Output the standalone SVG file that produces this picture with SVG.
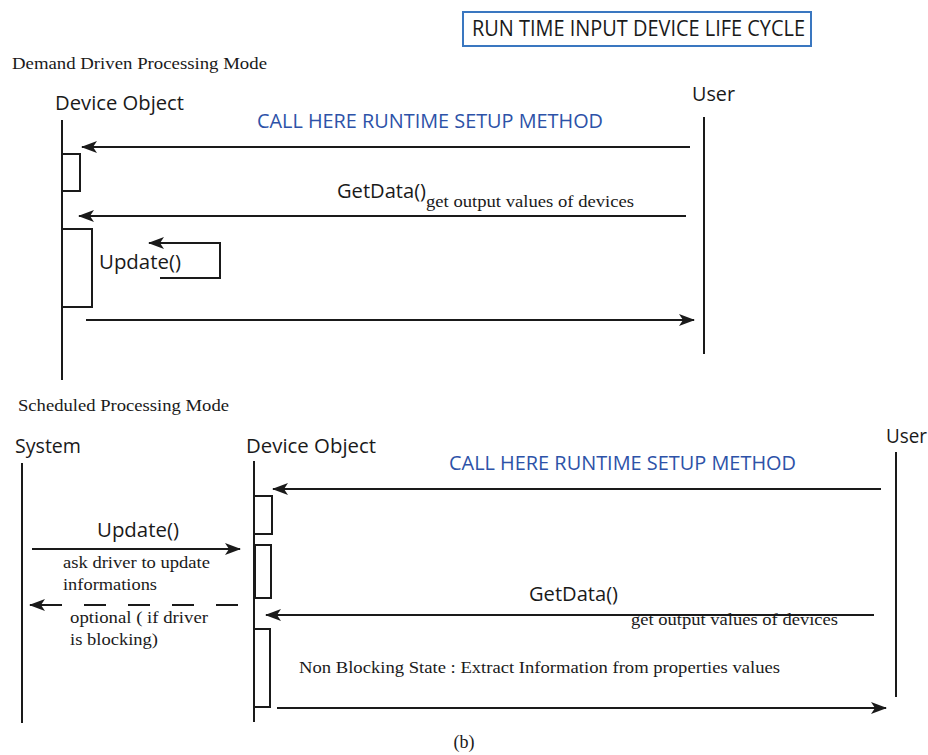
<svg xmlns="http://www.w3.org/2000/svg" width="928" height="755" viewBox="0 0 928 755">
<defs>
<marker id="ah" viewBox="0 0 16 12" refX="15" refY="6" markerWidth="16" markerHeight="12" markerUnits="userSpaceOnUse" orient="auto">
<path d="M0,0 L16,6 L0,12 L4,6 Z" fill="#1a1a1a"/>
</marker>
<style>
.sans{font-family:"Open Sans","Noto Sans","Liberation Sans",sans-serif;fill:#1a1a1a}
.serif{font-family:"Liberation Serif","Times New Roman",serif;fill:#1a1a1a}
.blue{font-family:"Open Sans","Noto Sans","Liberation Sans",sans-serif;fill:#2d52a8}
.life{stroke:#1a1a1a;stroke-width:2;fill:none}
.act{stroke:#1a1a1a;stroke-width:2;fill:#fff}
.msg{stroke:#1a1a1a;stroke-width:2;fill:none;marker-end:url(#ah)}
</style>
</defs>
<rect width="928" height="755" fill="#fff"/>

<g id="title">
<rect x="463" y="12" width="348" height="34" fill="#fff" stroke="#3a77c0" stroke-width="2"/>
<text class="sans" x="472" y="36" font-size="21" textLength="333" lengthAdjust="spacingAndGlyphs">RUN TIME INPUT DEVICE LIFE CYCLE</text>
</g>

<text class="serif" x="12" y="69" font-size="16.5" textLength="255" lengthAdjust="spacingAndGlyphs">Demand Driven Processing Mode</text>

<g id="top-device-object">
<text class="sans" x="55" y="110" font-size="20" textLength="129" lengthAdjust="spacingAndGlyphs">Device Object</text>
<line class="life" x1="62" y1="120" x2="62" y2="380"/>
<rect class="act" x="62" y="154" width="18" height="37"/>
<rect class="act" x="62" y="229" width="30" height="78"/>
</g>

<g id="top-user">
<text class="sans" x="692" y="101" font-size="20" textLength="43" lengthAdjust="spacingAndGlyphs">User</text>
<line class="life" x1="704" y1="117" x2="704" y2="354"/>
</g>

<g id="top-connectors">
<line class="msg" x1="690" y1="147" x2="82" y2="147"/>
<text class="blue" x="257" y="128" font-size="20" textLength="346" lengthAdjust="spacingAndGlyphs">CALL HERE RUNTIME SETUP METHOD</text>
<line class="msg" x1="686" y1="216" x2="79" y2="216"/>
<text class="sans" x="337" y="198" font-size="20" textLength="89" lengthAdjust="spacingAndGlyphs">GetData()</text>
<text class="serif" x="426" y="207" font-size="16.5" textLength="208" lengthAdjust="spacingAndGlyphs">get output values of devices</text>
<path class="msg" d="M160,278 H220 V243 H149"/>
<text class="sans" x="99" y="269" font-size="20" textLength="82" lengthAdjust="spacingAndGlyphs">Update()</text>
<line class="msg" x1="86" y1="320" x2="694" y2="320"/>
</g>

<text class="serif" x="18" y="411" font-size="16.5" textLength="211" lengthAdjust="spacingAndGlyphs">Scheduled Processing Mode</text>

<g id="system">
<text class="sans" x="15" y="453" font-size="20" textLength="66" lengthAdjust="spacingAndGlyphs">System</text>
<line class="life" x1="22" y1="463" x2="22" y2="723"/>
</g>

<g id="bottom-device-object">
<text class="sans" x="246" y="453" font-size="20" textLength="130" lengthAdjust="spacingAndGlyphs">Device Object</text>
<line class="life" x1="254" y1="461" x2="254" y2="722"/>
<rect class="act" x="254" y="496" width="18" height="38"/>
<rect class="act" x="255" y="545" width="16" height="53"/>
<rect class="act" x="254" y="629" width="16" height="78"/>
</g>

<g id="bottom-user">
<text class="sans" x="886" y="443" font-size="20" textLength="41" lengthAdjust="spacingAndGlyphs">User</text>
<line class="life" x1="896" y1="452" x2="896" y2="697"/>
</g>

<g id="bottom-connectors">
<text class="blue" x="449" y="470" font-size="20" textLength="347" lengthAdjust="spacingAndGlyphs">CALL HERE RUNTIME SETUP METHOD</text>
<line class="msg" x1="881" y1="489" x2="273" y2="489"/>
<text class="sans" x="97" y="537" font-size="20" textLength="82" lengthAdjust="spacingAndGlyphs">Update()</text>
<line class="msg" x1="32" y1="549" x2="240" y2="549"/>
<text class="serif" x="63" y="568" font-size="16.5" textLength="147" lengthAdjust="spacingAndGlyphs">ask driver to update</text>
<text class="serif" x="63" y="590" font-size="16.5" textLength="94" lengthAdjust="spacingAndGlyphs">informations</text>
<line x1="238" y1="605" x2="50" y2="605" stroke="#1a1a1a" stroke-width="2" stroke-dasharray="22 22"/>
<line class="msg" x1="60" y1="605" x2="30" y2="605"/>
<text class="serif" x="70" y="623" font-size="16.5" textLength="138" lengthAdjust="spacingAndGlyphs">optional ( if driver</text>
<text class="serif" x="70" y="645" font-size="16.5" textLength="88" lengthAdjust="spacingAndGlyphs">is blocking)</text>
<text class="sans" x="529" y="601" font-size="20" textLength="89" lengthAdjust="spacingAndGlyphs">GetData()</text>
<line class="msg" x1="874" y1="615" x2="266" y2="615"/>
<text class="serif" x="631" y="625" font-size="16.5" textLength="207" lengthAdjust="spacingAndGlyphs">get output values of devices</text>
<text class="serif" x="299" y="673" font-size="16.5" textLength="481" lengthAdjust="spacingAndGlyphs">Non Blocking State : Extract Information from properties values</text>
<line class="msg" x1="277" y1="708" x2="886" y2="708"/>
</g>

<text class="serif" x="464" y="748" font-size="18" text-anchor="middle">(b)</text>
</svg>
